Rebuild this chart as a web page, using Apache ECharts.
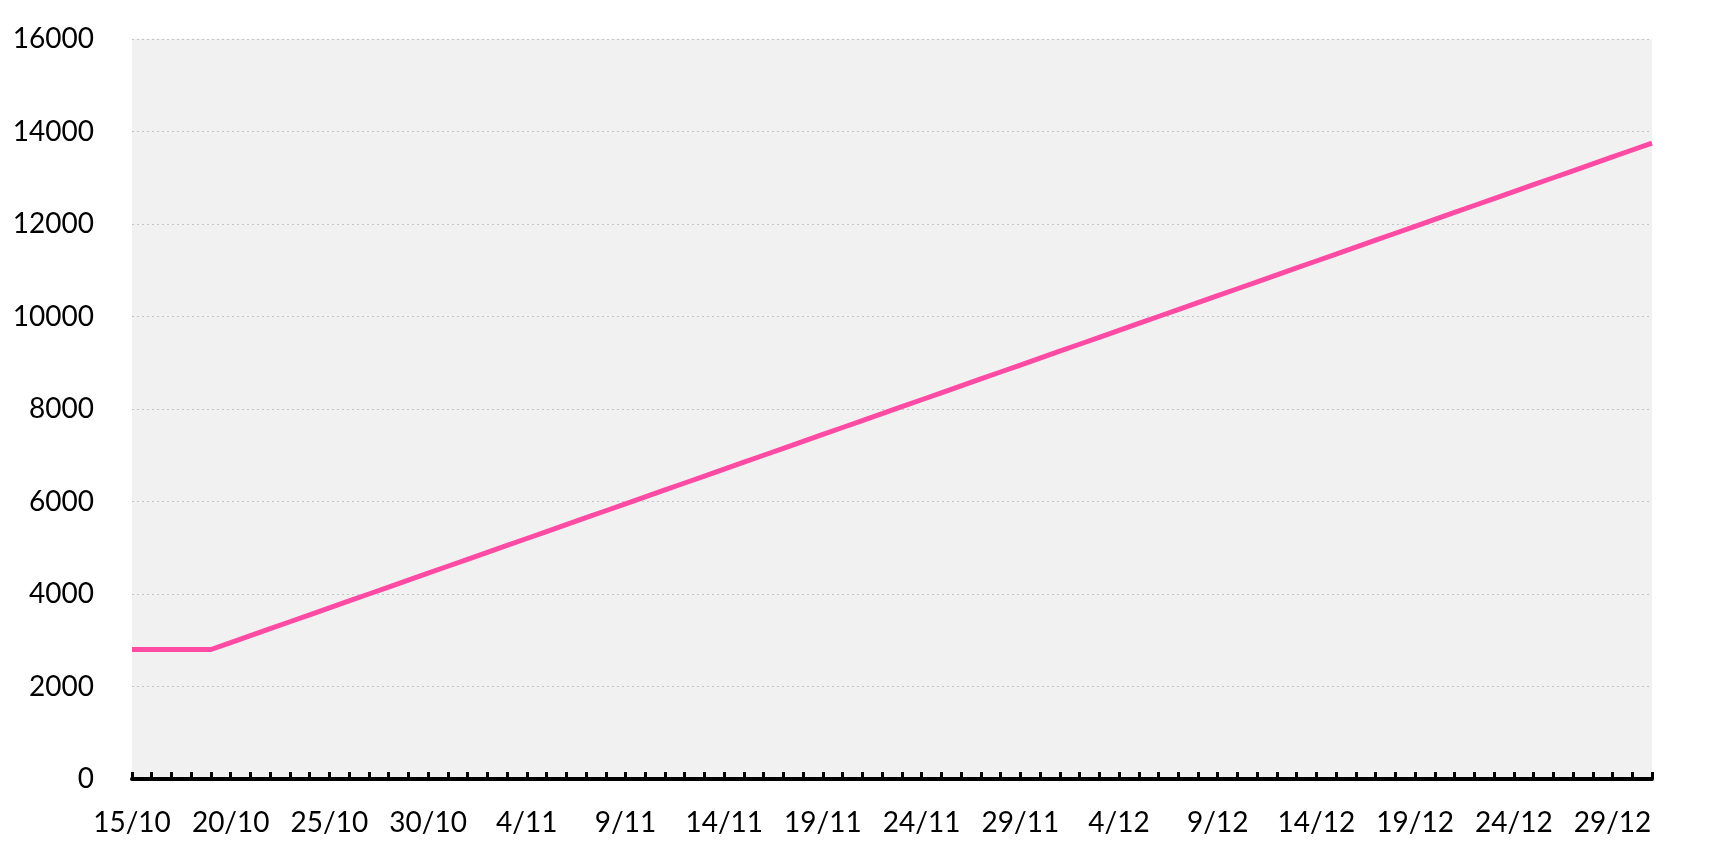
<!DOCTYPE html>
<html>
<head>
<meta charset="utf-8">
<script src="https://cdn.jsdelivr.net/npm/echarts@6/dist/echarts.min.js"></script>
<style>
html,body{margin:0;padding:0;background:#fff;}
#chart{width:1712px;height:858px;}
</style>
</head>
<body>
<div id="chart"></div>
<script>
var categories = [
  '15/10','16/10','17/10','18/10','19/10','20/10','21/10','22/10','23/10','24/10','25/10','26/10','27/10','28/10','29/10','30/10','31/10',
  '1/11','2/11','3/11','4/11','5/11','6/11','7/11','8/11','9/11','10/11','11/11','12/11','13/11','14/11','15/11','16/11','17/11','18/11','19/11','20/11','21/11','22/11','23/11','24/11','25/11','26/11','27/11','28/11','29/11','30/11',
  '1/12','2/12','3/12','4/12','5/12','6/12','7/12','8/12','9/12','10/12','11/12','12/12','13/12','14/12','15/12','16/12','17/12','18/12','19/12','20/12','21/12','22/12','23/12','24/12','25/12','26/12','27/12','28/12','29/12','30/12','31/12'
];
var values = [
  2800,2800,2800,2800,2800,2950,3100,3250,3400,3550,3700,3850,4000,4150,4300,4450,4600,
  4750,4900,5050,5200,5350,5500,5650,5800,5950,6100,6250,6400,6550,6700,6850,7000,7150,7300,7450,7600,7750,7900,8050,8200,8350,8500,8650,8800,8950,9100,
  9250,9400,9550,9700,9850,10000,10150,10300,10450,10600,10750,10900,11050,11200,11350,11500,11650,11800,11950,12100,12250,12400,12550,12700,12850,13000,13150,13300,13450,13600,13750
];
var yMin = 0, yMax = 16000, yStep = 2000;

var chart = echarts.init(document.getElementById('chart'), null, {renderer: 'canvas'});
var font = 'Lato, "Noto Sans", sans-serif';
chart.setOption({
  animation: false,
  grid: {
    left: 132, right: 60, top: 39, bottom: 79,
    show: true, backgroundColor: '#f1f1f1', borderWidth: 0
  },
  xAxis: {
    type: 'category',
    data: categories,
    boundaryGap: false,
    axisLine: {show: true, lineStyle: {color: '#000', width: 4}},
    axisTick: {show: true, inside: true, interval: 0, length: 7, lineStyle: {color: '#000', width: 3}},
    axisLabel: {interval: 4, color: '#000', fontSize: 28, fontFamily: font, margin: 30},
    splitLine: {show: false}
  },
  yAxis: {
    type: 'value',
    min: yMin, max: yMax, interval: yStep,
    axisLine: {show: false},
    axisTick: {show: false},
    axisLabel: {color: '#000', fontSize: 28, fontFamily: font, margin: 38, formatter: function (v) { return String(v); }},
    splitLine: {show: true, lineStyle: {color: '#c4c4c4', width: 1, type: [2, 3]}}
  },
  series: [{
    type: 'line',
    data: values,
    showSymbol: false,
    symbol: 'none',
    lineStyle: {color: '#ff4ba3', width: 5},
    itemStyle: {color: '#ff4ba3'}
  }]
});
</script>
</body>
</html>
